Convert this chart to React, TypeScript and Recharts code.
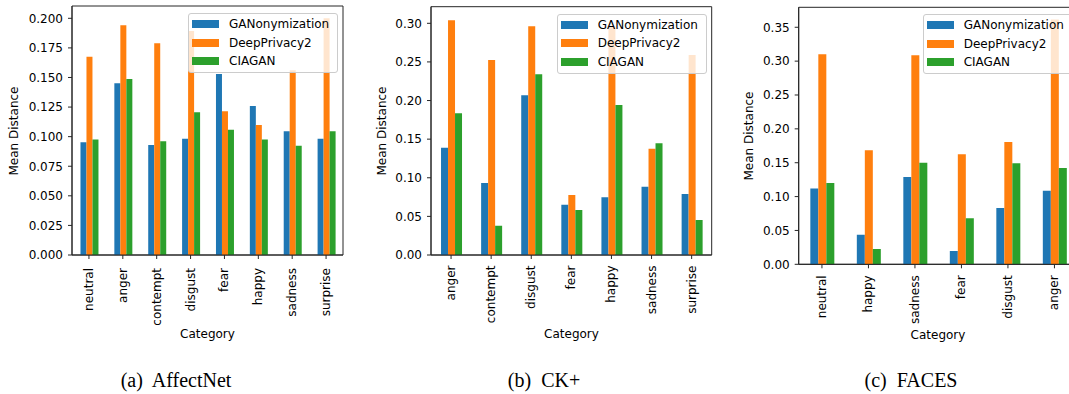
import React from 'react';
import { BarChart, Bar, XAxis, YAxis, Legend, CartesianGrid } from 'recharts';

const seriesNames = ['GANonymization', 'DeepPrivacy2', 'CIAGAN'];
const seriesColors = ['#1f77b4', '#ff7f0e', '#2ca02c'];

const affectCategories = ['neutral', 'anger', 'contempt', 'disgust', 'fear', 'happy', 'sadness', 'surprise'];
const affectGAN = [0.0952, 0.1451, 0.093, 0.0983, 0.153, 0.1259, 0.1045, 0.0983];
const affectDP2 = [0.1676, 0.1941, 0.1789, 0.1893, 0.1214, 0.1099, 0.1561, 0.2];
const affectCIAGAN = [0.0975, 0.1487, 0.0961, 0.1206, 0.1059, 0.0975, 0.0924, 0.1045];
const affectTicks = [0, 0.025, 0.05, 0.075, 0.1, 0.125, 0.15, 0.175, 0.2];

const ckCategories = ['anger', 'contempt', 'disgust', 'fear', 'happy', 'sadness', 'surprise'];
const ckGAN = [0.139, 0.0932, 0.2068, 0.0652, 0.0747, 0.0885, 0.079];
const ckDP2 = [0.3039, 0.2525, 0.2961, 0.0777, 0.296, 0.1377, 0.259];
const ckCIAGAN = [0.1835, 0.038, 0.234, 0.0583, 0.1942, 0.1446, 0.0453];
const ckTicks = [0, 0.05, 0.1, 0.15, 0.2, 0.25, 0.3];

const facesCategories = ['neutral', 'happy', 'sadness', 'fear', 'disgust', 'anger'];
const facesGAN = [0.112, 0.0438, 0.1289, 0.0198, 0.083, 0.1086];
const facesDP2 = [0.31, 0.1684, 0.3087, 0.1625, 0.1807, 0.3615];
const facesCIAGAN = [0.1202, 0.0226, 0.1501, 0.0681, 0.1491, 0.1422];
const facesTicks = [0, 0.05, 0.1, 0.15, 0.2, 0.25, 0.3, 0.35];

const captions = ['(a)  AffectNet', '(b)  CK+', '(c)  FACES'];

const FONT = '"DejaVu Sans", sans-serif';
const AXIS = '#262626';

function build(cats: string[], a: number[], b: number[], c: number[]) {
  return cats.map((cat, i) => ({ cat, s0: a[i], s1: b[i], s2: c[i] }));
}

const RotTick = (props: any) => {
  const { x, y, payload, offsetY } = props;
  return (
    <text
      transform={`translate(${x},${y + offsetY}) rotate(-90)`}
      textAnchor="end"
      dominantBaseline="central"
      fontFamily={FONT}
      fontSize={12}
      fill="#000"
    >
      {payload.value}
    </text>
  );
};

const LegendBox = () => (
  <div
    style={{
      width: 150,
      height: 60,
      boxSizing: 'border-box',
      background: 'rgba(255,255,255,0.8)',
      border: '1px solid #cccccc',
      borderRadius: 3,
      position: 'relative',
      fontFamily: FONT,
      fontSize: 12,
      color: '#000',
    }}
  >
    {seriesNames.map((n, i) => (
      <div key={n}>
        <div
          style={{
            position: 'absolute',
            left: 3,
            top: 10 + i * 18.5 - 4,
            width: 27,
            height: 8,
            background: seriesColors[i],
          }}
        />
        <div
          style={{
            position: 'absolute',
            left: 40,
            top: 10 + i * 18.5 - 8,
            lineHeight: '16px',
            whiteSpace: 'nowrap',
          }}
        >
          {n}
        </div>
      </div>
    ))}
  </div>
);

type PanelProps = {
  left: number;
  width: number;
  top: number;
  plotBottom: number;
  yAxisWidth: number;
  rightMargin: number;
  domainMax: number;
  ticks: number[];
  digits: number;
  data: any[];
  tickOffset: number;
};

const Panel = (p: PanelProps) => {
  const H = 394;
  const plotRight = p.width - p.rightMargin;
  return (
    <div style={{ position: 'absolute', left: p.left, top: 0, width: p.width, height: H }}>
      <BarChart
        width={p.width}
        height={H}
        data={p.data}
        margin={{ top: p.top, right: p.rightMargin, bottom: 0, left: 0 }}
        barCategoryGap="25%"
        barGap={0}
      >
        <CartesianGrid
          stroke={AXIS}
          strokeWidth={1}
          fill="none"
          horizontalCoordinatesGenerator={({ offset }: any) => [offset.top, offset.top + offset.height]}
          verticalCoordinatesGenerator={({ offset }: any) => [offset.left, offset.left + offset.width]}
        />
        <XAxis
          dataKey="cat"
          height={H - p.plotBottom}
          interval={0}
          tickSize={4}
          tickLine={{ stroke: AXIS }}
          axisLine={{ stroke: AXIS, strokeWidth: 1 }}
          tick={<RotTick offsetY={p.tickOffset} />}
        />
        <YAxis
          width={p.yAxisWidth}
          domain={[0, p.domainMax]}
          ticks={p.ticks}
          tickSize={4}
          tickMargin={5}
          interval={0}
          allowDataOverflow
          tickFormatter={(v: number) => v.toFixed(p.digits)}
          tickLine={{ stroke: AXIS }}
          axisLine={{ stroke: AXIS, strokeWidth: 1 }}
          tick={{ fontFamily: FONT, fontSize: 12, fill: '#000' }}
        />
        <Legend
          layout="vertical"
          align="center"
          verticalAlign="middle"
          content={<LegendBox />}
          wrapperStyle={{ left: plotRight - 155, top: p.top + 7, width: 150, height: 60 }}
        />
        <Bar dataKey="s0" name={seriesNames[0]} fill={seriesColors[0]} isAnimationActive={false} />
        <Bar dataKey="s1" name={seriesNames[1]} fill={seriesColors[1]} isAnimationActive={false} />
        <Bar dataKey="s2" name={seriesNames[2]} fill={seriesColors[2]} isAnimationActive={false} />
      </BarChart>
    </div>
  );
};

const TextAbs = ({ x, y, children, rotate, size, family }: any) => (
  <div
    style={{
      position: 'absolute',
      left: x,
      top: y,
      transform: `translate(-50%,-50%)${rotate ? ' rotate(-90deg)' : ''}`,
      fontFamily: family || FONT,
      fontSize: size || 12,
      whiteSpace: 'pre',
      color: '#000',
      lineHeight: 1,
    }}
  >
    {children}
  </div>
);

export default function App() {
  return (
    <div
      style={{
        position: 'fixed',
        left: 0,
        top: 0,
        width: 1069,
        height: 394,
        overflow: 'hidden',
        background: '#fff',
      }}
    >
      <Panel
        left={0}
        width={350}
        top={6}
        plotBottom={255}
        yAxisWidth={72}
        rightMargin={7}
        domainMax={0.2104}
        ticks={affectTicks}
        digits={3}
        data={build(affectCategories, affectGAN, affectDP2, affectCIAGAN)}
        tickOffset={7}
      />
      <Panel
        left={360}
        width={360}
        top={6.7}
        plotBottom={255}
        yAxisWidth={71}
        rightMargin={8.3}
        domainMax={0.3215}
        ticks={ckTicks}
        digits={2}
        data={build(ckCategories, ckGAN, ckDP2, ckCIAGAN)}
        tickOffset={4.5}
      />
      <Panel
        left={720}
        width={360}
        top={7.3}
        plotBottom={264.3}
        yAxisWidth={78.7}
        rightMargin={2.3}
        domainMax={0.3795}
        ticks={facesTicks}
        digits={2}
        data={build(facesCategories, facesGAN, facesDP2, facesCIAGAN)}
        tickOffset={5}
      />
      <TextAbs x={14} y={130.5} rotate>Mean Distance</TextAbs>
      <TextAbs x={382} y={131} rotate>Mean Distance</TextAbs>
      <TextAbs x={748.5} y={136} rotate>Mean Distance</TextAbs>
      <TextAbs x={207.5} y={334}>Category</TextAbs>
      <TextAbs x={571.5} y={334}>Category</TextAbs>
      <TextAbs x={938} y={335}>Category</TextAbs>
      <TextAbs x={176} y={380} size={20} family='"Liberation Serif", serif'>{captions[0]}</TextAbs>
      <TextAbs x={544} y={380} size={20} family='"Liberation Serif", serif'>{captions[1]}</TextAbs>
      <TextAbs x={911} y={380} size={20} family='"Liberation Serif", serif'>{captions[2]}</TextAbs>
    </div>
  );
}
